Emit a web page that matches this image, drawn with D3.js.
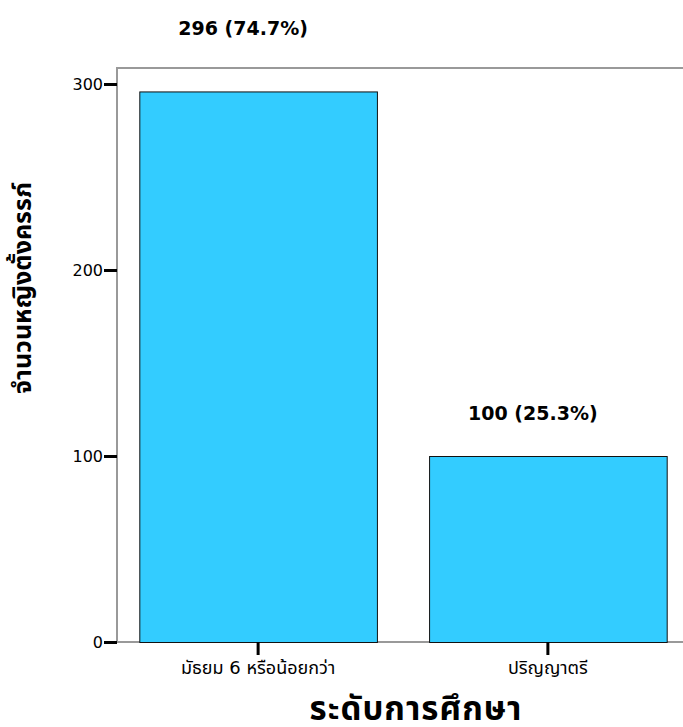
<!DOCTYPE html>
<html>
<head>
<meta charset="utf-8">
<script src="https://cdn.jsdelivr.net/npm/d3@7"></script>
<style>
  html, body { margin: 0; padding: 0; background: #fff; }
  svg { display: block; }
  text { font-family: Tahoma, "DejaVu Sans", "Noto Sans Thai", "Noto Sans", sans-serif; fill: #000; }
</style>
</head>
<body>
<svg id="chart" width="683" height="727"></svg>
<script>
// Education level of pregnant women: counts and shares
const categories = ["มัธยม 6 หรือน้อยกว่า", "ปริญญาตรี"];
const counts = [296, 100];
const percents = ["74.7%", "25.3%"];
const yTicks = [0, 100, 200, 300];
const xTitle = "ระดับการศึกษา";
const yTitle = "จำนวนหญิงตั้งครรภ์";

const svg = d3.select("#chart");
const frame = { left: 117, top: 68, right: 683, bottom: 642 };

const y = d3.scaleLinear().domain([0, 300]).range([frame.bottom, 84]);
const x = d3.scaleBand().domain(categories)
  .range([frame.left, frame.left + 572]).paddingInner(0.18).paddingOuter(0.077);

// frame lines (top, left, bottom)
svg.append("path")
  .attr("d", `M${frame.right},${frame.top}H${frame.left}V${frame.bottom}H${frame.right}`)
  .attr("fill", "none").attr("stroke", "#999").attr("stroke-width", 2);

// bars
svg.selectAll("rect.bar").data(counts).enter().append("rect")
  .attr("class", "bar")
  .attr("x", (d, i) => x(categories[i]) + 0.5)
  .attr("y", d => y(d) + 0.5)
  .attr("width", x.bandwidth())
  .attr("height", d => y(0) - y(d))
  .attr("fill", "#33ccff")
  .attr("stroke", "#111").attr("stroke-width", 1);

// y axis
const yAxis = d3.axisLeft(y).tickValues(yTicks).tickSize(13).tickPadding(1).tickFormat(d3.format("d"));
const gy = svg.append("g").attr("transform", `translate(${frame.left},0)`).call(yAxis);
gy.select(".domain").remove();
gy.selectAll(".tick line").attr("stroke", "#000").attr("stroke-width", 3);
gy.selectAll(".tick text").attr("font-size", 16).attr("fill", "#222");

// x axis
const xAxis = d3.axisBottom(x).tickSize(13).tickPadding(6);
const gx = svg.append("g").attr("transform", `translate(0,${frame.bottom})`).call(xAxis);
gx.select(".domain").remove();
gx.selectAll(".tick line").attr("stroke", "#000").attr("stroke-width", 3);
gx.selectAll(".tick text").attr("font-size", 18).attr("fill", "#111");

// value labels above bars
svg.selectAll("text.val").data(counts).enter().append("text")
  .attr("class", "val")
  .attr("x", (d, i) => x(categories[i]) + x.bandwidth() / 2 - 15)
  .attr("y", d => y(d) - 25 - d * 0.107)
  .attr("text-anchor", "middle")
  .attr("font-size", 19).attr("font-weight", "bold")
  .text((d, i) => `${d} (${percents[i]})`);

// axis titles
svg.append("text")
  .attr("x", 416).attr("y", 720)
  .attr("text-anchor", "middle")
  .attr("font-size", 33).attr("font-weight", "bold")
  .attr("letter-spacing", 1)
  .text(xTitle);

svg.append("text")
  .attr("transform", "translate(31,288) rotate(-90)")
  .attr("text-anchor", "middle")
  .attr("font-size", 25).attr("font-weight", "bold")
  .text(yTitle);
</script>
</body>
</html>
